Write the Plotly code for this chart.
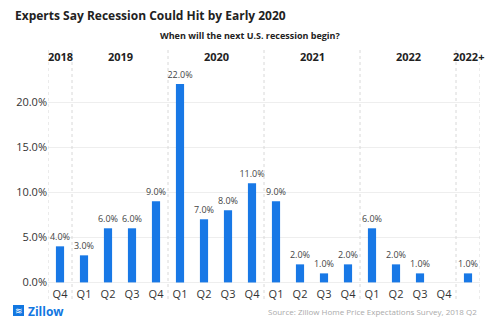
import plotly.graph_objects as go

quarters = ["Q4", "Q1", "Q2", "Q3", "Q4", "Q1", "Q2", "Q3", "Q4",
            "Q1", "Q2", "Q3", "Q4", "Q1", "Q2", "Q3", "Q4", ""]
values = [4.0, 3.0, 6.0, 6.0, 9.0, 22.0, 7.0, 8.0, 11.0,
          9.0, 2.0, 1.0, 2.0, 6.0, 2.0, 1.0, 0.0, 1.0]
years = ["2018", "2019", "2020", "2021", "2022", "2022+"]
year_spans = [(0, 0), (1, 4), (5, 8), (9, 12), (13, 16), (17, 17)]
y_ticks = [0, 5, 10, 15, 20]
y_tick_labels = ["0.0%", "5.0%", "10.0%", "15.0%", "20.0%"]

FONT = "Open Sans"
BLUE = "#1878E6"

xs = list(range(len(values)))
texts = [f"{v:.1f}%" if v > 0 else "" for v in values]

fig = go.Figure()
fig.add_trace(go.Bar(
    x=xs, y=values, width=0.34, marker=dict(color=BLUE, line=dict(width=0)),
    text=texts, textposition="outside", cliponaxis=False, constraintext="none",
    textfont=dict(family=FONT, size=9, color="#444"),
))

W, H = 500, 328
L, R, T, B = 48, 20, 66, 42
pw, ph = W - L - R, H - T - B

def py(pix):
    return (H - B - pix) / ph

def px(pix):
    return (pix - L) / pw

shapes = []
seps = [-0.5] + [s[1] + 0.5 for s in year_spans]
for s in seps:
    shapes.append(dict(type="line", xref="x", yref="paper", x0=s, x1=s,
                       y0=py(299), y1=py(47),
                       line=dict(color="#d8d8d8", width=1, dash="dot")))
# Zillow logo square
shapes.append(dict(type="rect", xref="paper", yref="paper",
                   x0=px(13), x1=px(24), y0=py(316), y1=py(305),
                   fillcolor="#1277E1", line=dict(width=0)))

annotations = [
    dict(text="<b>Experts Say Recession Could Hit by Early 2020</b>", xref="paper", yref="paper",
         x=px(13), y=py(16), xanchor="left", yanchor="middle", showarrow=False,
         font=dict(family=FONT, size=12, color="#222")),
    dict(text="<b>When will the next U.S. recession begin?</b>", xref="paper", yref="paper",
         x=px(250), y=py(36), xanchor="center", yanchor="middle", showarrow=False,
         font=dict(family=FONT, size=9, color="#222")),
    dict(text="<b>Zillow</b>", xref="paper", yref="paper",
         x=px(26), y=py(311), xanchor="left", yanchor="middle", showarrow=False,
         font=dict(family=FONT, size=12, color="#1277E1")),
    dict(text="≋", xref="paper", yref="paper",
         x=px(18.5), y=py(310.5), xanchor="center", yanchor="middle", showarrow=False,
         font=dict(family=FONT, size=9, color="white")),
    dict(text="Source: Zillow Home Price Expectations Survey, 2018 Q2", xref="paper", yref="paper",
         x=px(479), y=py(311), xanchor="right", yanchor="middle", showarrow=False,
         font=dict(family=FONT, size=8, color="#aaa")),
]
for yr, (a, b) in zip(years, year_spans):
    annotations.append(dict(text=f"<b>{yr}</b>", xref="x", yref="paper",
                            x=(a + b) / 2, y=py(57), xanchor="center", yanchor="middle",
                            showarrow=False, font=dict(family=FONT, size=11, color="#222")))

fig.update_layout(
    width=W, height=H, margin=dict(l=L, r=R, t=T, b=B),
    paper_bgcolor="white", plot_bgcolor="white", showlegend=False,
    font=dict(family=FONT),
    xaxis=dict(range=[-0.5, 17.5], tickvals=xs, ticktext=quarters, showgrid=False,
               zeroline=False, showline=False, ticks="",
               tickfont=dict(family=FONT, size=11, color="#333")),
    yaxis=dict(range=[-0.4, 24], tickvals=y_ticks, ticktext=y_tick_labels,
               showgrid=True, gridcolor="#eeeeee", zeroline=False, showline=False,
               ticks="", automargin=False, tickfont=dict(family=FONT, size=11, color="#333")),
    shapes=shapes, annotations=annotations,
)

fig.write_html("out.html")
